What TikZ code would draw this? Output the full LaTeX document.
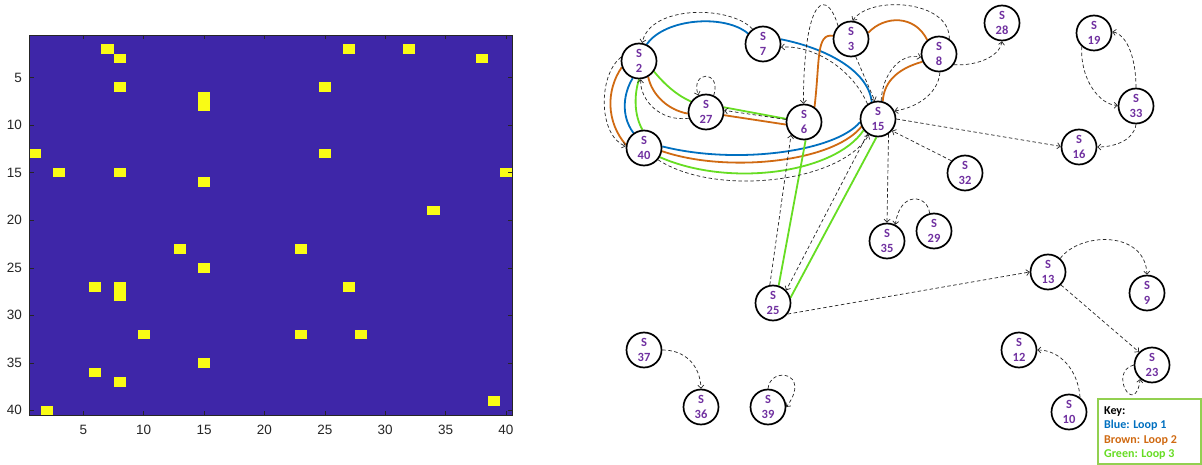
\documentclass[tikz,border=0pt]{standalone}
\usepackage{fontspec}
\setmainfont{Carlito}
\newfontfamily\axisfont{Liberation Sans}
\usetikzlibrary{arrows.meta}
\definecolor{parblue}{HTML}{3E26A8}
\definecolor{paryel}{HTML}{F9FB15}
\definecolor{axgray}{HTML}{262626}
\definecolor{loopblue}{HTML}{0070C0}
\definecolor{loopbrown}{HTML}{D06A12}
\definecolor{loopgreen}{HTML}{66DD22}
\definecolor{keygreen}{HTML}{92D050}
\definecolor{spurple}{HTML}{7030A0}
\pgfdeclarelayer{bg}
\pgfsetlayers{bg,main}
\begin{document}
\begin{tikzpicture}[x=1pt,y=1pt,
  st/.style={circle,draw=black,line width=1.7pt,fill=white,minimum size=35pt,inner sep=0pt,align=center,text=spurple,font=\fontsize{12.5}{15}\selectfont\bfseries},
  dsh/.style={draw=black!85,line width=0.7pt,dash pattern=on 3.5pt off 2.5pt,-{Straight Barb[length=3pt,width=6pt]}},
  lp/.style={line width=1.8pt},
  lb/.style={lp,draw=loopblue},
  lr/.style={lp,draw=loopbrown},
  lg/.style={lp,draw=loopgreen},
  tick/.style={draw=axgray,line width=0.5pt},
  ticklab/.style={text=axgray,font=\axisfont\fontsize{13.5}{15}\selectfont,inner sep=0pt},
  keytxt/.style={anchor=base west,inner sep=0pt,font=\fontsize{12}{14}\selectfont\bfseries}]
\useasboundingbox (0,0) rectangle (1202,-465);
% ---------- matrix plot ----------
\fill[parblue] (29,-35) rectangle (512,-415);
\foreach \r/\c in {2/7,2/27,2/32,3/8,3/38,6/8,6/25,7/15,8/15,13/1,13/25,15/3,15/8,15/40,16/15,19/34,23/13,23/23,25/15,27/6,27/8,27/27,28/8,32/10,32/23,32/28,35/15,36/6,37/8,39/39,40/2}
  \fill[paryel] ({29+(\c-1)*12.075},{-35-(\r-1)*9.5}) rectangle ({29+\c*12.075},{-35-\r*9.5});
\draw[draw=axgray,line width=0.6pt] (29,-35) rectangle (512,-415);
\foreach \v in {5,10,...,40}{
  \draw[tick] ({29+(\v-0.5)*12.075},-415) -- ++(0,4.5);
  \draw[tick] ({29+(\v-0.5)*12.075},-35) -- ++(0,-4.5);
  \draw[tick] (29,{-35-(\v-0.5)*9.5}) -- ++(4.5,0);
  \draw[tick] (512,{-35-(\v-0.5)*9.5}) -- ++(-4.5,0);
  \node[ticklab,anchor=north] (xt\v) at ({29+(\v-0.5)*12.075},-425) {\v};
  \node[ticklab,anchor=east] (yt\v) at (22,{-35-(\v-0.5)*9.5}) {\v};
}
% ---------- graph nodes ----------
\node[st] (s2) at (639,-61) {S\\2};
\node[st] (s7) at (763,-44) {S\\7};
\node[st] (s3) at (851,-39) {S\\3};
\node[st] (s8) at (939,-54) {S\\8};
\node[st] (s28) at (1002,-23) {S\\28};
\node[st] (s19) at (1094,-33) {S\\19};
\node[st] (s33) at (1136,-106) {S\\33};
\node[st] (s16) at (1079,-147) {S\\16};
\node[st] (s32) at (965,-173) {S\\32};
\node[st] (s15) at (878,-119) {S\\15};
\node[st] (s6) at (804,-122) {S\\6};
\node[st] (s27) at (706,-112) {S\\27};
\node[st] (s40) at (644,-148) {S\\40};
\node[st] (s35) at (887,-241) {S\\35};
\node[st] (s29) at (934,-231) {S\\29};
\node[st] (s25) at (773,-303) {S\\25};
\node[st] (s13) at (1048,-272) {S\\13};
\node[st] (s9) at (1147,-293) {S\\9};
\node[st] (s12) at (1019,-350) {S\\12};
\node[st] (s23) at (1152,-365) {S\\23};
\node[st] (s10) at (1069,-412) {S\\10};
\node[st] (s37) at (644,-350) {S\\37};
\node[st] (s36) at (701,-407) {S\\36};
\node[st] (s39) at (768,-407) {S\\39};
% ---------- key ----------
\node[draw=keygreen,line width=1.2pt,fill=white,minimum width=103pt,minimum height=65pt,inner sep=0pt] (key) at (1149.5,-431.5) {};
\node[keytxt,text=black] (k0) at (1104,-414) {Key:};
\node[keytxt,text=loopblue] (k1) at (1104,-428.5) {Blue: Loop 1};
\node[keytxt,text=loopbrown] (k2) at (1104,-443) {Brown: Loop 2};
\node[keytxt,text=loopgreen] (k3) at (1104,-457.5) {Green: Loop 3};
% ---------- connectors ----------
\begin{pgfonlayer}{bg}
\fill[white] (0,0) rectangle (1202,-465);
% blue loop
\draw[lb] (s2.65) .. controls (665,-18) and (725,-14) .. (s7.145);
\draw[lb] (s7.15) .. controls (825,-48) and (868,-70) .. (s15.110);
\draw[lb] (s15.190) .. controls (835,-152) and (735,-165) .. (s40.5);
\draw[lb] (s40.125) .. controls (620,-115) and (624,-92) .. (s2.250);
% brown loop
\draw[lr] (s2.200) .. controls (606,-90) and (606,-122) .. (s40.170);
\draw[lr] (s2.300) .. controls (652,-95) and (668,-110) .. (s27.185);
\draw[lr] (s27.-10) -- (s6.188);
\draw[lr] (s6.55) .. controls (820,-60) and (816,-33) .. (s3.170);
\draw[lr] (s3.20) .. controls (885,-15) and (915,-15) .. (s8.130);
\draw[lr] (s8.205) .. controls (900,-68) and (884,-80) .. (s15.75);
\draw[lr] (s15.205) .. controls (832,-163) and (725,-173) .. (s40.-10);
% green loop
\draw[lg] (s2.-35) .. controls (665,-85) and (678,-96) .. (s27.145);
\draw[lg] (s27.15) -- (s6.170);
\draw[lg] (s6.-85) -- (s25.72);
\draw[lg] (s25.17) -- (s15.-95);
\draw[lg] (s15.218) .. controls (835,-173) and (730,-188) .. (s40.-30);
\draw[lg] (s40.95) .. controls (634,-115) and (634,-95) .. (s2.270);
% dashed transitions
\draw[dsh] (s7.125) .. controls (730,-5) and (650,-5) .. (s2.80);
\draw[dsh] (s2.168) .. controls (598,-75) and (598,-135) .. (s40.175);
\draw[dsh] (s27.200) .. controls (660,-122) and (640,-100) .. (s2.-85);
\draw[dsh] (s27.65) .. controls (722,-70) and (690,-70) .. (s27.115);
\draw[dsh] (s6.172) -- (s27.5);
\draw[dsh] (s15.125) .. controls (850,-65) and (810,-45) .. (s7.-10);
\draw[dsh] (s3.135) .. controls (828,10) and (804,10) .. (s6.92);
\draw[dsh] (s8.56) .. controls (950,0) and (870,5) .. (s3.85);
\draw[dsh] (s3.-75) -- (s15.100);
\draw[dsh] (s15.80) .. controls (882,-75) and (900,-52) .. (s8.190);
\draw[dsh] (s8.-87) .. controls (938,-95) and (915,-108) .. (s15.26);
\draw[dsh] (s8.-36) .. controls (980,-66) and (1000,-55) .. (s28.-90);
\draw[dsh] (s15.0) -- (s16.178);
\draw[dsh] (s32.138) -- (s15.-40);
\draw[dsh] (s19.228) .. controls (1080,-80) and (1100,-105) .. (s33.178);
\draw[dsh] (s33.90) .. controls (1136,-60) and (1128,-35) .. (s19.4);
\draw[dsh] (s33.-90) .. controls (1134,-140) and (1115,-147) .. (s16.0);
\draw[dsh] (s15.-55) -- (s35.90);
\draw[dsh] (s29.104) .. controls (928,-195) and (900,-190) .. (s35.63);
\draw[dsh] (s25.100) -- (s6.-135);
\draw[dsh] (s15.-125) -- (s25.44);
\draw[dsh] (s25.-37) -- (s13.180);
\draw[dsh] (s13.48) .. controls (1080,-232) and (1145,-230) .. (s9.90);
\draw[dsh] (s13.-45) -- (s23.135);
\draw[dsh] (s10.53) .. controls (1078,-370) and (1060,-350) .. (s12.0);
\draw[dsh] (s23.180) .. controls (1108,-372) and (1135,-418) .. (s23.-130);
\draw[dsh] (s37.0) .. controls (685,-350) and (700,-365) .. (s36.90);
\draw[dsh] (s39.90) .. controls (770,-366) and (812,-372) .. (s39.0);
\draw[dsh] (s40.-40) .. controls (715,-197) and (840,-183) .. (s15.-120);
\end{pgfonlayer}
\end{tikzpicture}
\end{document}
